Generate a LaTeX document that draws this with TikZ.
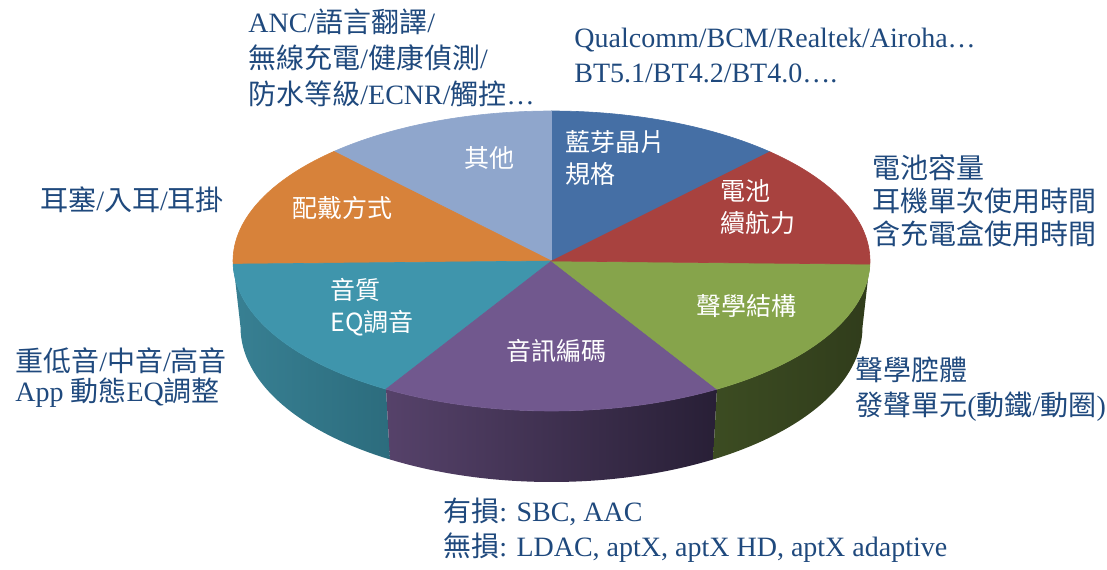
\documentclass[tikz,border=0pt]{standalone}
\usepackage{fontspec}
\setmainfont{Liberation Serif}
\newfontfamily\cjk{Noto Sans CJK TC}
\newcommand{\zh}[1]{{\cjk #1}}
\usetikzlibrary{calc}

\definecolor{txtblue}{RGB}{31,73,125}
\definecolor{pieblue}{RGB}{69,111,165}
\definecolor{piered}{RGB}{168,66,63}
\definecolor{piegreen}{RGB}{134,164,75}
\definecolor{piepurple}{RGB}{113,88,142}
\definecolor{pieteal}{RGB}{63,149,172}
\definecolor{pieorange}{RGB}{215,130,58}
\definecolor{pielight}{RGB}{143,166,204}
\definecolor{sideteal}{RGB}{56,128,147}
\definecolor{sidetealdk}{RGB}{44,108,125}
\definecolor{sidepurple}{RGB}{86,66,106}
\definecolor{sidepurpledk}{RGB}{40,31,54}
\definecolor{sidegreen}{RGB}{60,76,34}
\definecolor{sidegreendk}{RGB}{48,60,27}

\begin{document}
\begin{tikzpicture}[x=0.5pt,y=0.5pt,
  outlbl/.style={text=txtblue,font=\fontsize{14}{17.5}\selectfont,align=left,anchor=west,inner sep=0pt},
  inlbl/.style={text=white,font=\cjk\fontsize{12.5}{16}\selectfont,align=left,inner sep=0pt}]

% ===== 參數 =====
\def\cx{551.5}  % 頂面中心 x
\def\cy{308}    % 頂面中心 y
\def\rx{318.5}  % 頂面橫半軸
\def\ry{150}    % 頂面豎半軸
\def\bcy{242}   % 底面中心 y
\def\brx{311}   % 底面橫半軸
\def\bry{155}   % 底面豎半軸

\useasboundingbox (0,0) rectangle (1107,569);
\coordinate (top) at (\cx,\cy);
\coordinate (bot) at (\cx,\bcy);

% ===== 側面(前半圈) =====
\path[left color=sideteal,right color=sidetealdk]
  ($(top)+(180:{\rx} and {\ry})$) arc[start angle=180,end angle=238.7,x radius=\rx,y radius=\ry]
  -- ($(bot)+(238.7:{\brx} and {\bry})$) arc[start angle=238.7,end angle=180,x radius=\brx,y radius=\bry] -- cycle;
\path[left color=sidepurple,right color=sidepurpledk]
  ($(top)+(238.7:{\rx} and {\ry})$) arc[start angle=238.7,end angle=301.3,x radius=\rx,y radius=\ry]
  -- ($(bot)+(301.3:{\brx} and {\bry})$) arc[start angle=301.3,end angle=238.7,x radius=\brx,y radius=\bry] -- cycle;
\path[left color=sidegreen,right color=sidegreendk]
  ($(top)+(301.3:{\rx} and {\ry})$) arc[start angle=301.3,end angle=360,x radius=\rx,y radius=\ry]
  -- ($(bot)+(0:{\brx} and {\bry})$) arc[start angle=360,end angle=301.3,x radius=\brx,y radius=\bry] -- cycle;

% ===== 頂面扇形 =====
\filldraw[pieblue,line width=0.3pt] (top) -- ++(46.7:{\rx} and {\ry}) arc[start angle=46.7,end angle=90,x radius=\rx,y radius=\ry] -- cycle;
\filldraw[pielight,line width=0.3pt] (top) -- ++(90:{\rx} and {\ry}) arc[start angle=90,end angle=133.1,x radius=\rx,y radius=\ry] -- cycle;
\filldraw[pieorange,line width=0.3pt] (top) -- ++(133.1:{\rx} and {\ry}) arc[start angle=133.1,end angle=181.2,x radius=\rx,y radius=\ry] -- cycle;
\filldraw[pieteal,line width=0.3pt] (top) -- ++(181.2:{\rx} and {\ry}) arc[start angle=181.2,end angle=238.7,x radius=\rx,y radius=\ry] -- cycle;
\filldraw[piepurple,line width=0.3pt] (top) -- ++(238.7:{\rx} and {\ry}) arc[start angle=238.7,end angle=301.3,x radius=\rx,y radius=\ry] -- cycle;
\filldraw[piegreen,line width=0.3pt] (top) -- ++(301.3:{\rx} and {\ry}) arc[start angle=301.3,end angle=358.8,x radius=\rx,y radius=\ry] -- cycle;
\filldraw[piered,line width=0.3pt] (top) -- ++(-1.2:{\rx} and {\ry}) arc[start angle=-1.2,end angle=46.7,x radius=\rx,y radius=\ry] -- cycle;

% ===== 扇形內標籤 =====
\node[inlbl,anchor=west] (chip) at (565,411) {藍芽晶片\\規格};
\node[inlbl,anchor=west] (battery) at (720,362) {電池\\續航力};
\node[inlbl] (acoustic) at (746,263) {聲學結構};
\node[inlbl] (codec) at (556,218) {音訊編碼};
\node[inlbl,anchor=west] (sound) at (330,262) {音質\\EQ調音};
\node[inlbl] (wear) at (342,361) {配戴方式};
\node[inlbl] (other) at (489,411) {其他};

% ===== 外圍說明 =====
\node[outlbl,font=\fontsize{14}{18}\selectfont] (otherNote) at (248,511)
  {ANC/\zh{語言翻譯}/\\\zh{無線充電}/\zh{健康偵測}/\\\zh{防水等級}/ECNR/\zh{觸控}…};
\node[outlbl] (chipNote) at (574,513.5) {Qualcomm/BCM/Realtek/Airoha…\\BT5.1/BT4.2/BT4.0….};
\node[outlbl,font=\fontsize{14}{16.5}\selectfont] (batteryNote) at (872,368)
  {\zh{電池容量}\\\zh{耳機單次使用時間}\\\zh{含充電盒使用時間}};
\node[outlbl] (acousticNote) at (855,179.5) {\zh{聲學腔體}\\\zh{發聲單元}(\zh{動鐵}/\zh{動圈})};
\node[outlbl] (wearNote) at (40,369) {\zh{耳塞}/\zh{入耳}/\zh{耳掛}};
\node[outlbl,font=\fontsize{14}{15}\selectfont] (soundNote) at (15,191)
  {\zh{重低音}/\zh{中音}/\zh{高音}\\App \zh{動態}EQ\zh{調整}};
\node[outlbl] (codecNote) at (443,38.5) {\zh{有損}: SBC, AAC\\\zh{無損}: LDAC, aptX, aptX HD, aptX adaptive};

\end{tikzpicture}
\end{document}
